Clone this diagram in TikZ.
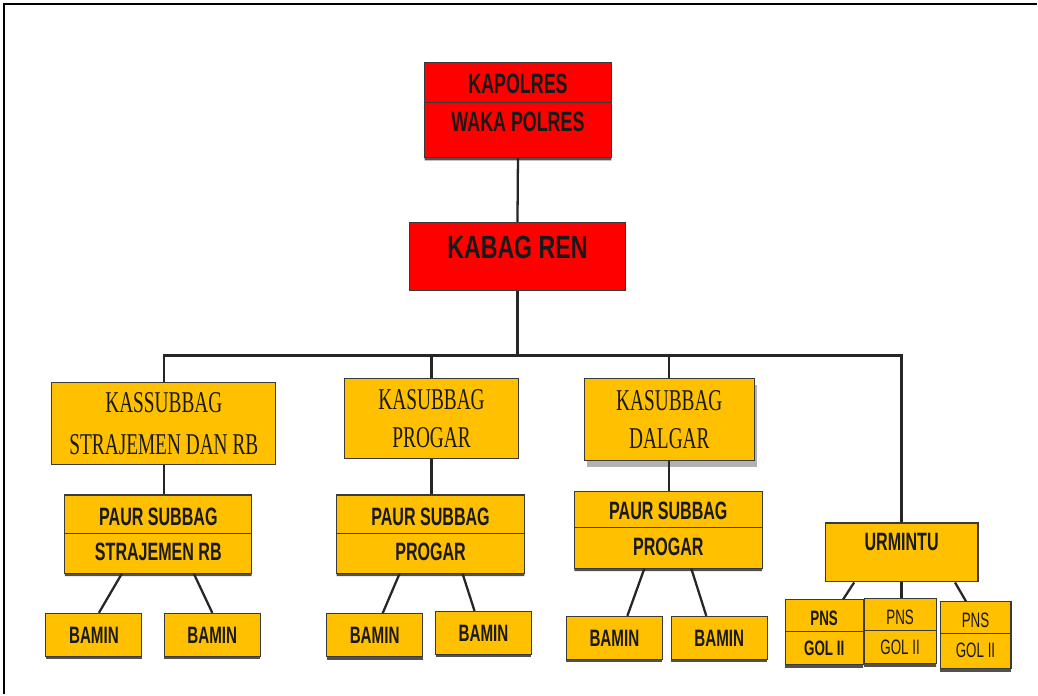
\documentclass[tikz,border=0pt]{standalone}
\usepackage{fontspec}
\setmainfont{Liberation Serif}
\newfontfamily\narrowserif[FakeStretch=0.64]{Liberation Serif}
\newfontfamily\narrowsans[FakeStretch=0.64]{Liberation Sans}
\newfontfamily\widesans[FakeStretch=0.72]{Liberation Sans}
\usetikzlibrary{shapes.multipart,shadows}

\definecolor{kuning}{HTML}{FFC000}
\definecolor{merah}{HTML}{FF0000}
\definecolor{garis}{HTML}{3A3A3A}

% strut: height above baseline, depth below
\newcommand{\pstrut}[2]{\rule[-#2]{0pt}{\dimexpr#1+#2\relax}}

\tikzset{
  kotak/.style={draw=garis, line width=0.6pt, inner sep=0pt, text=black!90},
  bayang/.style={drop shadow={shadow xshift=0pt, shadow yshift=-0.06cm, fill=black!80, opacity=0.85}},
  bayangbesar/.style={drop shadow={shadow xshift=0.05cm, shadow yshift=-0.12cm, fill=black!55, opacity=0.55}},
  merahbox/.style={kotak, fill=merah},
  kuningbox/.style={kotak, fill=kuning},
  serifbox/.style={kuningbox, align=center, font=\narrowserif\fontsize{17.2}{23}\selectfont},
  duabox/.style={kuningbox, bayang, anchor=north, rectangle split, rectangle split parts=2,
    font=\narrowsans\bfseries\fontsize{14.3}{16}\selectfont},
  baminbox/.style={kuningbox, bayang, minimum width=1.92cm, minimum height=0.86cm,
    font=\narrowsans\bfseries\fontsize{13.5}{15}\selectfont},
  pnsbox/.style={duabox, font=\narrowsans\bfseries\fontsize{11.9}{13}\selectfont},
  garisan/.style={draw=black!85, line width=1.3pt},
}

\begin{document}
\begin{tikzpicture}[x=0.02cm, y=-0.02cm]

  \fill[white] (0,0) rectangle (1038,695);
  \draw[line width=1.2pt] (4,695) -- (4,4) -- (1038,4);

  % pimpinan
  \node[merahbox, bayang, anchor=north, rectangle split, rectangle split parts=2, minimum width=3.74cm,
        font=\narrowsans\bfseries\fontsize{15.9}{17}\selectfont] (kapolres) at (518.5,62)
        {\pstrut{0.62cm}{0.16cm}KAPOLRES\nodepart{two}\pstrut{0.58cm}{0.5cm}WAKA POLRES};
  \node[merahbox, anchor=north, minimum width=4.32cm,
        font=\widesans\bfseries\fontsize{18.3}{20}\selectfont] (kabag) at (518,222)
        {\pstrut{0.73cm}{0.63cm}KABAG REN};

  % kasubbag
  \node[serifbox, minimum width=4.48cm, minimum height=1.64cm, font=\narrowserif\fontsize{17.2}{24.4}\selectfont] (kasStra) at (164,424) {KASSUBBAG\\STRAJEMEN DAN RB};
  \node[serifbox, minimum width=3.48cm, minimum height=1.6cm, font=\narrowserif\fontsize{17.2}{21.6}\selectfont] (kasProg) at (432,419) {KASUBBAG\\PROGAR};
  \node[serifbox, bayangbesar, minimum width=3.4cm, minimum height=1.64cm, font=\narrowserif\fontsize{17.2}{21.6}\selectfont] (kasDal) at (670,420) {KASUBBAG\\DALGAR};

  % paur subbag
  \node[duabox, minimum width=3.74cm] (paurStra) at (158.5,495)
        {\pstrut{0.6cm}{0.14cm}PAUR SUBBAG\nodepart{two}\pstrut{0.54cm}{0.24cm}STRAJEMEN RB};
  \node[duabox, minimum width=3.76cm] (paurProg) at (431,495)
        {\pstrut{0.6cm}{0.14cm}PAUR SUBBAG\nodepart{two}\pstrut{0.54cm}{0.24cm}PROGAR};
  \node[duabox, minimum width=3.76cm] (paurDal) at (669,491)
        {\pstrut{0.56cm}{0.14cm}PAUR SUBBAG\nodepart{two}\pstrut{0.56cm}{0.24cm}PROGAR};
  \node[kuningbox, anchor=north, minimum width=3.06cm,
        font=\narrowsans\bfseries\fontsize{14.3}{16}\selectfont] (urmintu) at (902.5,523)
        {\pstrut{0.56cm}{0.62cm}URMINTU};

  % bamin
  \node[baminbox] (bamin1) at (94,635.5) {BAMIN};
  \node[baminbox] (bamin2) at (212.5,635.5) {BAMIN};
  \node[baminbox] (bamin3) at (375,636) {BAMIN};
  \node[baminbox] (bamin4) at (484,633.5) {BAMIN};
  \node[baminbox] (bamin5) at (615,638.5) {BAMIN};
  \node[baminbox] (bamin6) at (720,638.5) {BAMIN};

  % pns
  \node[pnsbox, minimum width=1.56cm] (pns1) at (825,600)
        {\pstrut{0.5cm}{0.12cm}PNS\nodepart{two}\pstrut{0.47cm}{0.17cm}GOL II};
  \node[pnsbox, minimum width=1.44cm, font=\narrowsans\fontsize{11.9}{13}\selectfont] (pns2) at (901,599)
        {\pstrut{0.5cm}{0.12cm}PNS\nodepart{two}\pstrut{0.47cm}{0.17cm}GOL II};
  \node[pnsbox, minimum width=1.42cm, font=\narrowsans\fontsize{11.9}{13}\selectfont] (pns3) at (976.5,602)
        {\pstrut{0.5cm}{0.12cm}PNS\nodepart{two}\pstrut{0.47cm}{0.21cm}GOL II};

  % garis
  \coordinate (bus) at (518,356);
  \draw[garisan] (kapolres.south) -- (kabag.north);
  \draw[garisan] (kabag.south) -- (bus);
  \draw[garisan] (kasStra.north) |- (bus) -| (urmintu.north);
  \draw[garisan] (kasProg.north) -- (kasProg.north |- bus);
  \draw[garisan] (kasDal.north) -- (kasDal.north |- bus);

  \draw[garisan] (kasStra.south) -- (kasStra.south |- paurStra.north);
  \draw[garisan] (kasProg.south) -- (kasProg.south |- paurProg.north);
  \draw[garisan] (kasDal.south) -- (kasDal.south |- paurDal.north);

  \draw[garisan] ([xshift=-0.73cm]paurStra.south) -- ([xshift=0.1cm]bamin1.north);
  \draw[garisan] ([xshift=0.71cm]paurStra.south) -- (bamin2.north);
  \draw[garisan] ([xshift=-0.62cm]paurProg.south) -- ([xshift=0.16cm]bamin3.north);
  \draw[garisan] ([xshift=0.64cm]paurProg.south) -- ([xshift=-0.18cm]bamin4.north);
  \draw[garisan] ([xshift=-0.48cm]paurDal.south) -- ([xshift=0.26cm]bamin5.north);
  \draw[garisan] ([xshift=0.46cm]paurDal.south) -- ([xshift=-0.26cm]bamin6.north);

  \draw[garisan] ([xshift=-0.95cm]urmintu.south) -- ([xshift=0.38cm]pns1.north);
  \draw[garisan] (urmintu.south) -- (urmintu.south |- pns2.north);
  \draw[garisan] ([xshift=1.07cm]urmintu.south) -- ([xshift=-0.19cm]pns3.north);

\end{tikzpicture}
\end{document}
